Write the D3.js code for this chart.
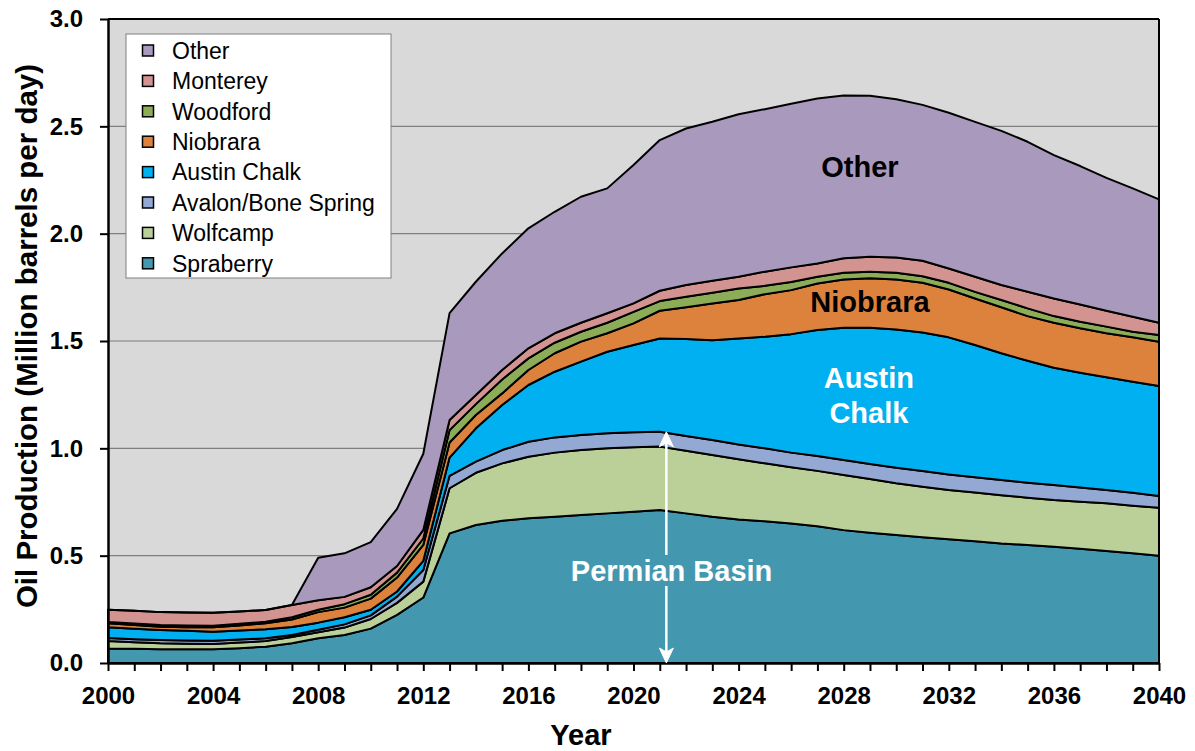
<!DOCTYPE html>
<html>
<head>
<meta charset="utf-8">
<script src="https://cdn.jsdelivr.net/npm/d3@7"></script>
<style>
  body { margin: 0; background: #fff; }
  text { font-family: "Liberation Sans", Arial, Helvetica, sans-serif; }
</style>
</head>
<body>
<div id="chart"></div>
<script>
// Anos (eixo x)
var years = [2000, 2001, 2002, 2003, 2004, 2005, 2006, 2007, 2008, 2009,
             2010, 2011, 2012, 2013, 2014, 2015, 2016, 2017, 2018, 2019,
             2020, 2021, 2022, 2023, 2024, 2025, 2026, 2027, 2028, 2029,
             2030, 2031, 2032, 2033, 2034, 2035, 2036, 2037, 2038, 2039, 2040];

// Produção por play (milhões de barris por dia)
var spraberry = [.068, .066, .064, .064, .064, .069, .076, .092, .115, .130,
                 .160, .224, .305, .604, .643, .663, .674, .681, .689, .697,
                 .705, .713, .697, .681, .669, .660, .650, .637, .619, .607,
                 .596, .586, .576, .567, .557, .550, .542, .532, .522, .511, .500];
var wolfcamp = [.035, .031, .028, .026, .025, .026, .026, .029, .028, .035,
                .045, .056, .074, .210, .243, .267, .287, .299, .303, .303,
                .300, .295, .292, .288, .280, .270, .262, .258, .257, .250,
                .241, .235, .230, .227, .225, .220, .217, .219, .222, .222, .223];
var avalon = [.013, .014, .015, .015, .015, .014, .013, .009, .012, .015,
              .017, .029, .054, .058, .052, .062, .070, .071, .070, .070,
              .070, .069, .068, .070, .069, .070, .068, .069, .070, .070,
              .073, .073, .072, .071, .070, .070, .070, .067, .062, .060, .055];
var austinChalk = [.051, .049, .047, .045, .042, .042, .042, .038, .033, .033,
                   .026, .024, .043, .085, .155, .210, .264, .306, .342, .380,
                   .406, .435, .452, .465, .494, .520, .552, .587, .616, .635,
                   .644, .646, .639, .616, .591, .568, .546, .534, .525, .517, .512];
var niobrara = [.018, .017, .015, .017, .020, .024, .028, .035, .049, .045,
                .052, .065, .074, .070, .062, .054, .070, .086, .093, .086,
                .101, .129, .148, .171, .179, .198, .205, .217, .225, .230,
                .233, .231, .223, .217, .214, .208, .210, .207, .205, .207, .207];
var woodford = [.006, .007, .008, .008, .008, .008, .007, .010, .011, .016,
                .018, .023, .030, .058, .051, .065, .054, .049, .046, .049,
                .054, .045, .049, .050, .054, .039, .038, .031, .031, .031,
                .031, .031, .031, .031, .034, .036, .031, .031, .031, .026, .031];
var monterey = [.057, .059, .060, .060, .060, .057, .055, .057, .044, .034,
                .035, .031, .040, .047, .042, .044, .047, .044, .042, .044,
                .039, .048, .055, .056, .054, .066, .068, .062, .067, .069,
                .071, .072, .067, .070, .070, .077, .082, .080, .074, .070, .057];
var other = [0, 0, 0, 0, 0, 0, 0, 0, .198, .203,
             .210, .266, .355, .498, .528, .543, .559, .566, .587, .582,
             .645, .702, .729, .740, .757, .757, .762, .769, .759, .750,
             .737, .726, .725, .722, .718, .699, .668, .645, .619, .598, .575];

var seriesNames = ["Spraberry", "Wolfcamp", "Avalon/Bone Spring", "Austin Chalk",
                   "Niobrara", "Woodford", "Monterey", "Other"];
var seriesColors = ["#4398b0", "#bbcf99", "#93a9d3", "#00b0f0",
                    "#dc823d", "#8cac57", "#d39391", "#a99abd"];
var yTicks = [0, 0.5, 1.0, 1.5, 2.0, 2.5, 3.0];
var xLabelYears = [2000, 2004, 2008, 2012, 2016, 2020, 2024, 2028, 2032, 2036, 2040];

var width = 1195, height = 751;
var margin = { top: 19, right: 36, bottom: 88, left: 108 };

var svg = d3.select("#chart").append("svg")
    .attr("width", width)
    .attr("height", height);

var x = d3.scaleLinear().domain([2000, 2040]).range([margin.left, width - margin.right]);
var y = d3.scaleLinear().domain([0, 3]).range([height - margin.bottom, margin.top]);

// Tabela para o d3.stack
var allSeries = [spraberry, wolfcamp, avalon, austinChalk, niobrara, woodford, monterey, other];
var table = years.map(function (yr, i) {
    var row = { year: yr };
    seriesNames.forEach(function (n, k) { row[n] = allSeries[k][i]; });
    return row;
});
var stacked = d3.stack().keys(seriesNames)(table);

// Fundo do gráfico
svg.append("rect")
    .attr("x", x(2000)).attr("y", y(3))
    .attr("width", x(2040) - x(2000)).attr("height", y(0) - y(3))
    .attr("fill", "#d9d9d9");

// Linhas de grade
svg.append("g").selectAll("line")
    .data(yTicks.filter(function (d) { return d > 0 && d < 3; }))
    .join("line")
    .attr("x1", x(2000)).attr("x2", x(2040))
    .attr("y1", function (d) { return y(d); })
    .attr("y2", function (d) { return y(d); })
    .attr("stroke", "#7f7f7f")
    .attr("stroke-width", 1.2);

// Áreas empilhadas
var area = d3.area()
    .x(function (d) { return x(d.data.year); })
    .y0(function (d) { return y(d[0]); })
    .y1(function (d) { return y(d[1]); });

svg.append("g").selectAll("path")
    .data(stacked)
    .join("path")
    .attr("d", area)
    .attr("fill", function (d, i) { return seriesColors[i]; })
    .attr("stroke", "#000")
    .attr("stroke-width", 2)
    .attr("stroke-linejoin", "round");

// Moldura
svg.append("line").attr("x1", x(2000)).attr("x2", x(2040)).attr("y1", y(3)).attr("y2", y(3))
    .attr("stroke", "#000").attr("stroke-width", 2);
svg.append("line").attr("x1", x(2040)).attr("x2", x(2040)).attr("y1", y(3)).attr("y2", y(0))
    .attr("stroke", "#000").attr("stroke-width", 2);

// Eixo y
var yAxis = svg.append("g")
    .attr("transform", "translate(" + x(2000) + ",0)")
    .call(d3.axisLeft(y).tickValues(yTicks).tickFormat(d3.format(".1f"))
        .tickSize(8).tickPadding(17).tickSizeOuter(0));
yAxis.select(".domain").attr("stroke-width", 2.5);
yAxis.selectAll(".tick line").attr("stroke-width", 2);
yAxis.selectAll("text")
    .attr("font-size", 24).attr("font-weight", "bold").attr("fill", "#000")
    .style("font-family", "'Liberation Sans', Arial, sans-serif");

// Eixo x
var xAxis = svg.append("g")
    .attr("transform", "translate(0," + y(0) + ")")
    .call(d3.axisBottom(x).tickValues(years)
        .tickFormat(function (d) { return xLabelYears.indexOf(d) >= 0 ? d : ""; })
        .tickSize(8).tickPadding(16).tickSizeOuter(0));
xAxis.select(".domain").attr("stroke-width", 2.5);
xAxis.selectAll(".tick line").attr("stroke-width", 2);
xAxis.selectAll("text")
    .attr("font-size", 24).attr("font-weight", "bold").attr("fill", "#000")
    .style("font-family", "'Liberation Sans', Arial, sans-serif");

// Títulos dos eixos
svg.append("text")
    .attr("x", 581).attr("y", 745)
    .attr("text-anchor", "middle")
    .attr("font-size", 29).attr("font-weight", "bold")
    .text("Year");

svg.append("text")
    .attr("transform", "translate(37,336) rotate(-90)")
    .attr("text-anchor", "middle")
    .attr("font-size", 29.5).attr("font-weight", "bold")
    .text("Oil Production (Million barrels per day)");

// Rótulos das áreas
var labels = [
    { t: "Other", yr: 2028.62, v: 2.264, c: "#000" },
    { t: "Niobrara", yr: 2029.0, v: 1.635, c: "#000" },
    { t: "Austin", yr: 2028.96, v: 1.281, c: "#fff" },
    { t: "Chalk", yr: 2028.96, v: 1.118, c: "#fff" },
    { t: "Permian Basin", yr: 2021.45, v: 0.382, c: "#fff" }
];
svg.append("g").selectAll("text")
    .data(labels)
    .join("text")
    .attr("x", function (d) { return x(d.yr); })
    .attr("y", function (d) { return y(d.v); })
    .attr("text-anchor", "middle")
    .attr("font-size", 29).attr("font-weight", "bold")
    .attr("fill", function (d) { return d.c; })
    .text(function (d) { return d.t; });

// Seta dupla do Permian Basin
var ax = x(2021.25);
var arrowTop = y(1.077), arrowBottom = y(0);
var g = svg.append("g").attr("fill", "#fff").attr("stroke", "#fff");
g.append("line").attr("x1", ax).attr("x2", ax).attr("y1", arrowTop + 10).attr("y2", 555)
    .attr("stroke-width", 2.5);
g.append("line").attr("x1", ax).attr("x2", ax).attr("y1", 586).attr("y2", arrowBottom - 10)
    .attr("stroke-width", 2.5);
g.append("path")
    .attr("d", "M" + ax + "," + arrowTop + " l7,15 l-7,-4 l-7,4 z")
    .attr("stroke-width", 1);
g.append("path")
    .attr("d", "M" + ax + "," + arrowBottom + " l7,-15 l-7,4 l-7,-4 z")
    .attr("stroke-width", 1);

// Legenda
var legend = svg.append("g").attr("transform", "translate(126,34)");
legend.append("rect")
    .attr("width", 265).attr("height", 244)
    .attr("fill", "#fff").attr("stroke", "#808080").attr("stroke-width", 1);
var legendOrder = seriesNames.slice().reverse();
var legendColors = seriesColors.slice().reverse();
var items = legend.selectAll("g.item")
    .data(legendOrder)
    .join("g")
    .attr("class", "item")
    .attr("transform", function (d, i) { return "translate(0," + (16.5 + i * 30.4) + ")"; });
items.append("rect")
    .attr("x", 16.5).attr("y", -5.5)
    .attr("width", 11).attr("height", 11)
    .attr("fill", function (d, i) { return legendColors[i]; })
    .attr("stroke", "#000").attr("stroke-width", 1.5);
items.append("text")
    .attr("x", 46).attr("dy", "0.36em")
    .attr("font-size", 23)
    .text(function (d) { return d; });
</script>
</body>
</html>
